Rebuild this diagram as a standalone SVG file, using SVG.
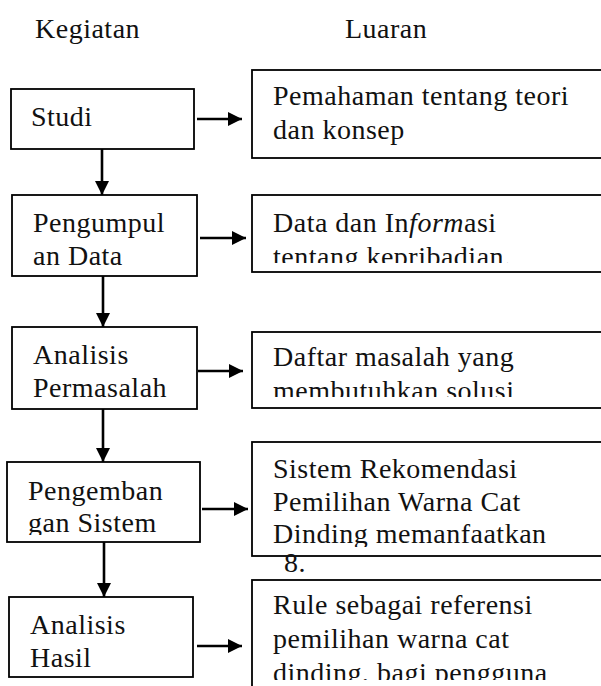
<svg xmlns="http://www.w3.org/2000/svg" width="601" height="686" viewBox="0 0 601 686">
<style>
text{font-family:"Liberation Serif","Times New Roman",serif;font-size:28px;fill:#111;letter-spacing:0.5px}
.box{fill:#fff;stroke:#000;stroke-width:1.8}
.ln{stroke:#000;stroke-width:2.6;fill:none}
</style>
<defs>
<marker id="ah" viewBox="0 0 14 14" refX="14" refY="7" markerWidth="14" markerHeight="14" markerUnits="userSpaceOnUse" orient="auto">
<path d="M0,0 L14,7 L0,14 Z" fill="#000"/>
</marker>
<clipPath id="c2"><rect x="252" y="190" width="380" height="73"/></clipPath>
<clipPath id="c3"><rect x="252" y="330" width="380" height="67"/></clipPath>
<clipPath id="c4"><rect x="252" y="440" width="380" height="107"/></clipPath>
<clipPath id="c5"><rect x="252" y="578" width="380" height="102"/></clipPath>
<clipPath id="cl4"><rect x="7" y="462" width="193" height="73"/></clipPath>
</defs>

<text x="35" y="38">Kegiatan</text>
<text x="345" y="38">Luaran</text>

<g id="connectors">
<line class="ln" x1="102" y1="149" x2="102" y2="195" marker-end="url(#ah)"/>
<line class="ln" x1="103" y1="276" x2="103" y2="327" marker-end="url(#ah)"/>
<line class="ln" x1="103" y1="409" x2="103" y2="462" marker-end="url(#ah)"/>
<line class="ln" x1="104" y1="542" x2="104" y2="597" marker-end="url(#ah)"/>
<line class="ln" x1="197" y1="119" x2="242" y2="119" marker-end="url(#ah)"/>
<line class="ln" x1="200" y1="238" x2="246" y2="238" marker-end="url(#ah)"/>
<line class="ln" x1="198" y1="371" x2="243" y2="371" marker-end="url(#ah)"/>
<line class="ln" x1="202" y1="509" x2="248" y2="509" marker-end="url(#ah)"/>
<line class="ln" x1="197" y1="646" x2="242" y2="646" marker-end="url(#ah)"/>
</g>

<g id="k1"><rect class="box" x="11" y="89" width="183" height="60"/><text x="31" y="126">Studi</text></g>
<g id="k2"><rect class="box" x="12" y="195" width="185" height="81"/><text x="33" y="232">Pengumpul</text><text x="33" y="265">an Data</text></g>
<g id="k3"><rect class="box" x="12" y="327" width="185" height="82"/><text x="33" y="364">Analisis</text><text x="33" y="397">Permasalah</text></g>
<g id="k4"><rect class="box" x="7" y="462" width="193" height="80"/><text x="28" y="500">Pengemban</text><text x="28" y="532" clip-path="url(#cl4)">gan Sistem</text></g>
<g id="k5"><rect class="box" x="9" y="597" width="184" height="80"/><text x="30" y="634">Analisis</text><text x="30" y="667">Hasil</text></g>

<g id="l1"><rect class="box" x="252" y="70" width="380" height="88"/><text x="273" y="105">Pemahaman tentang teori</text><text x="273" y="139">dan konsep</text></g>
<g id="l2"><rect class="box" x="252" y="195" width="380" height="77"/><text x="273" y="232">Data dan In<tspan font-style="italic">form</tspan>asi</text><text x="273" y="266" clip-path="url(#c2)">tentang kepribadian.</text></g>
<g id="l3"><rect class="box" x="252" y="332" width="380" height="76"/><text x="273" y="366">Daftar masalah yang</text><text x="273" y="400" clip-path="url(#c3)">membutuhkan solusi</text></g>
<g id="l4"><rect class="box" x="252" y="442" width="380" height="114"/><text x="273" y="478">Sistem Rekomendasi</text><text x="273" y="511">Pemilihan Warna Cat</text><text x="273" y="543" clip-path="url(#c4)">Dinding memanfaatkan</text></g>
<text x="284" y="572">8.</text>
<g id="l5"><rect class="box" x="252" y="580" width="380" height="130"/><text x="273" y="614">Rule sebagai referensi</text><text x="273" y="648">pemilihan warna cat</text><text x="273" y="682" clip-path="url(#c5)">dinding, bagi pengguna</text></g>
</svg>
